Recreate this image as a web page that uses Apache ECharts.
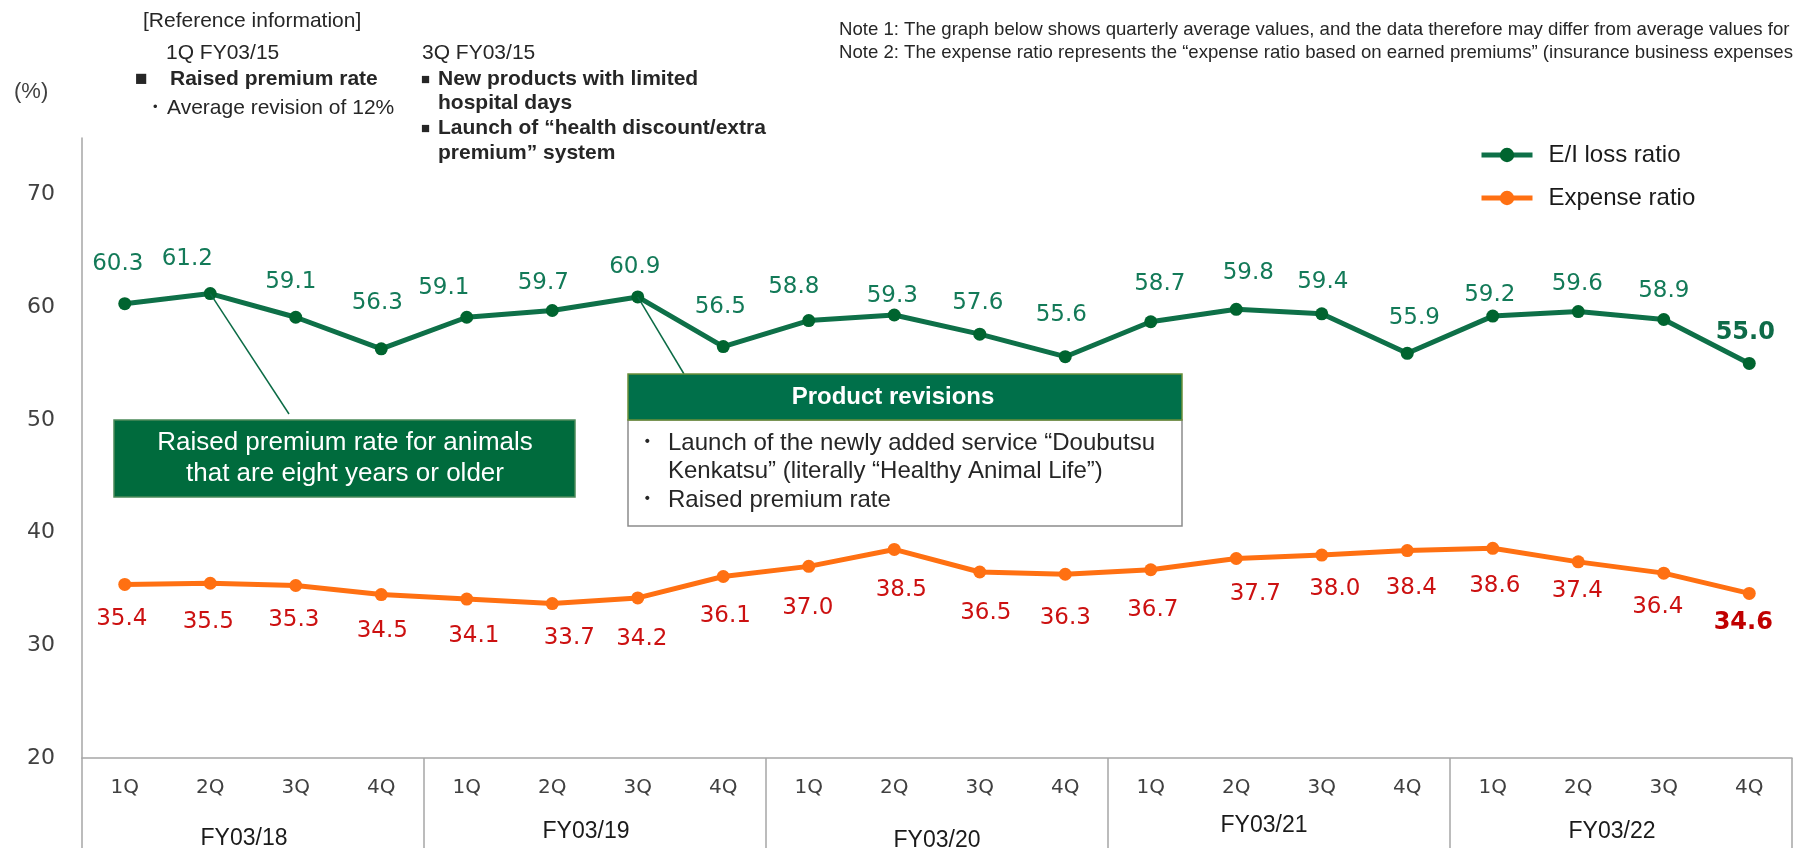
<!DOCTYPE html>
<html>
<head>
<meta charset="utf-8">
<script src="https://cdn.jsdelivr.net/npm/echarts@6/dist/echarts.min.js"></script>
<style>
  html, body { margin: 0; padding: 0; background: #ffffff; }
  #chart { width: 1794px; height: 853px; }
</style>
</head>
<body>
<div id="chart"></div>
<script>
// Quarter labels along the lower axis and the fiscal years that group them
const quarters = ['1Q', '2Q', '3Q', '4Q', '1Q', '2Q', '3Q', '4Q', '1Q', '2Q', '3Q', '4Q',
                  '1Q', '2Q', '3Q', '4Q', '1Q', '2Q', '3Q', '4Q'];
const fiscalYears = ['FY03/18', 'FY03/19', 'FY03/20', 'FY03/21', 'FY03/22'];

// Quarterly ratios (%)
const lossRatio = [60.3, 61.2, 59.1, 56.3, 59.1, 59.7, 60.9, 56.5, 58.8, 59.3,
                   57.6, 55.6, 58.7, 59.8, 59.4, 55.9, 59.2, 59.6, 58.9, 55.0];
const expenseRatio = [35.4, 35.5, 35.3, 34.5, 34.1, 33.7, 34.2, 36.1, 37.0, 38.5,
                      36.5, 36.3, 36.7, 37.7, 38.0, 38.4, 38.6, 37.4, 36.4, 34.6];

// Value axis range
const yMin = 20, yMax = 75, yStep = 10;

// Hand-placed nudges for the value labels (pixels from each marker)
const lossLabelShift = [[-7, -40], [-23, -35], [-5, -35], [-4, -46], [-23, -29], [-9, -27], [-3, -30],
  [-3, -40], [-15, -34], [-2, -19], [-2, -31], [-4, -42], [9, -38], [12, -36], [1, -32], [7, -35],
  [-3, -21], [-1, -28], [0, -28], [-4, -31]];
const expenseLabelShift = [[-3, 35], [-2, 39], [-2, 35], [1, 36], [7, 37], [17, 34], [4, 41],
  [2, 40], [-1, 42], [7, 41], [6, 41], [0, 44], [2, 40], [19, 36], [13, 34], [4, 37], [2, 38],
  [-1, 29], [-6, 34], [-6, 29]];

// Small shifts of the fiscal-year captions: [down, left]
const fyCaptionShift = [[13, 9], [6, 9], [15, 0], [0, 15], [6, 9]];

const SANS = '"Liberation Sans", Arial, sans-serif';
const VERD = '"DejaVu Sans", Verdana, sans-serif';
const GREEN_LINE = '#0E7048';
const GREEN_DOT = '#00642F';
const GREEN_TEXT = '#137A58';
const ORANGE = '#FF7012';
const RED_TEXT = '#CC1111';
const AXIS_GREY = '#A6A6A6';
const last = lossRatio.length - 1;

function seriesData(values, shifts, lastLabel) {
  return values.map((v, i) => {
    const item = { value: v, label: { offset: shifts[i] } };
    if (i === last) Object.assign(item.label, lastLabel);
    return item;
  });
}

const fyRich = {};
fiscalYears.forEach((fy, i) => {
  fyRich['f' + i] = {
    fontFamily: SANS, fontSize: 23, color: '#1A1A1A',
    padding: [fyCaptionShift[i][0], fyCaptionShift[i][1] * 2, 0, 0]
  };
});

const chart = echarts.init(document.getElementById('chart'), null, { renderer: 'canvas' });

const option = {
  animation: false,
  backgroundColor: '#ffffff',
  grid: { left: 82, right: 2, top: 138, bottom: 95, containLabel: false, outerBoundsMode: 'none' },
  legend: {
    orient: 'vertical',
    left: 1474,
    top: 138,
    itemWidth: 51,
    itemHeight: 18,
    itemGap: 19,
    lineStyle: { width: 5 },
    textStyle: { fontFamily: SANS, fontSize: 24, color: '#1A1A1A', padding: [0, 0, 0, 11] },
    data: ['E/I loss ratio', 'Expense ratio']
  },
  xAxis: [
    {
      type: 'category',
      position: 'bottom',
      data: quarters,
      boundaryGap: true,
      axisLine: { show: true, lineStyle: { color: AXIS_GREY, width: 1.5 } },
      axisTick: { show: false },
      axisLabel: { interval: 0, margin: 20, fontFamily: VERD, fontSize: 20, color: '#404040' },
      splitLine: { show: false }
    },
    {
      type: 'category',
      position: 'bottom',
      data: fiscalYears,
      boundaryGap: true,
      axisLine: { show: false },
      axisTick: { show: true, length: 90, lineStyle: { color: AXIS_GREY, width: 1.5 } },
      axisLabel: {
        interval: 0, margin: 56,
        formatter: (v) => '{f' + fiscalYears.indexOf(v) + '|' + v + '}',
        rich: fyRich
      },
      splitLine: { show: false }
    }
  ],
  yAxis: {
    type: 'value',
    min: yMin,
    max: yMax,
    interval: yStep,
    axisLine: { show: true, lineStyle: { color: AXIS_GREY, width: 1.5 } },
    axisTick: { show: false },
    splitLine: { show: false },
    axisLabel: { showMaxLabel: false, margin: 27, fontFamily: VERD, fontSize: 22, color: '#404040' }
  },
  series: [
    {
      name: 'E/I loss ratio',
      type: 'line',
      xAxisIndex: 0,
      data: seriesData(lossRatio, lossLabelShift, { fontWeight: 'bold', fontSize: 24, color: '#0E6B48' }),
      symbol: 'circle',
      symbolSize: 13,
      lineStyle: { color: GREEN_LINE, width: 5 },
      itemStyle: { color: GREEN_DOT },
      label: {
        show: true, position: 'inside',
        fontFamily: VERD, fontSize: 23, color: GREEN_TEXT,
        formatter: (p) => p.value.toFixed(1)
      },
      markLine: {
        silent: true,
        symbol: ['none', 'none'],
        label: { show: false },
        lineStyle: { color: '#0B6B45', width: 1.5, type: 'solid' },
        data: [
          [{ coord: [1, lossRatio[1]] }, { x: 289, y: 414 }],
          [{ coord: [6, lossRatio[6]] }, { x: 684, y: 374 }]
        ]
      }
    },
    {
      name: 'Expense ratio',
      type: 'line',
      xAxisIndex: 0,
      data: seriesData(expenseRatio, expenseLabelShift, { fontWeight: 'bold', fontSize: 24, color: '#C00000' }),
      symbol: 'circle',
      symbolSize: 13,
      lineStyle: { color: ORANGE, width: 5 },
      itemStyle: { color: ORANGE },
      label: {
        show: true, position: 'inside',
        fontFamily: VERD, fontSize: 23, color: RED_TEXT,
        formatter: (p) => p.value.toFixed(1)
      }
    }
  ],
  graphic: [
    // unit caption
    { type: 'text', left: 14, top: 81, style: { text: '(%)', fontFamily: SANS, fontSize: 22, fill: '#404040' } },

    // notes along the top
    { type: 'text', x: 839, y: 30, style: { text: 'Note 1: The graph below shows quarterly average values, and the data therefore may differ from average values for',
      fontFamily: SANS, fontSize: 18.6, fill: '#262626', verticalAlign: 'middle' } },
    { type: 'text', x: 839, y: 53, style: { text: 'Note 2: The expense ratio represents the \u201cexpense ratio based on earned premiums\u201d (insurance business expenses',
      fontFamily: SANS, fontSize: 18.6, fill: '#262626', verticalAlign: 'middle' } },

    // reference information block
    { type: 'text', x: 143, y: 21, style: { text: '[Reference information]', fontFamily: SANS, fontSize: 21, fill: '#262626', verticalAlign: 'middle' } },
    { type: 'text', x: 166, y: 53, style: { text: '1Q FY03/15', fontFamily: SANS, fontSize: 21, fill: '#262626', verticalAlign: 'middle' } },
    { type: 'text', x: 135, y: 79, style: { text: '\u25a0', fontFamily: SANS, fontSize: 21, fontWeight: 'bold', fill: '#262626', verticalAlign: 'middle' } },
    { type: 'text', x: 170, y: 79, style: { text: 'Raised premium rate', fontFamily: SANS, fontSize: 21, fontWeight: 'bold', fill: '#262626', verticalAlign: 'middle' } },
    { type: 'text', x: 144, y: 108, style: { text: '\u30fb', fontFamily: SANS, fontSize: 22, fill: '#262626', verticalAlign: 'middle' } },
    { type: 'text', x: 167, y: 108, style: { text: 'Average revision of 12%', fontFamily: SANS, fontSize: 21, fill: '#262626', verticalAlign: 'middle' } },

    { type: 'text', x: 422, y: 53, style: { text: '3Q FY03/15', fontFamily: SANS, fontSize: 21, fill: '#262626', verticalAlign: 'middle' } },
    { type: 'text', x: 421, y: 80, style: { text: '\u25a0', fontFamily: SANS, fontSize: 15, fill: '#262626', verticalAlign: 'middle' } },
    { type: 'text', x: 438, y: 79, style: { text: 'New products with limited', fontFamily: SANS, fontSize: 21, fontWeight: 'bold', fill: '#262626', verticalAlign: 'middle' } },
    { type: 'text', x: 438, y: 103, style: { text: 'hospital days', fontFamily: SANS, fontSize: 21, fontWeight: 'bold', fill: '#262626', verticalAlign: 'middle' } },
    { type: 'text', x: 421, y: 129, style: { text: '\u25a0', fontFamily: SANS, fontSize: 15, fill: '#262626', verticalAlign: 'middle' } },
    { type: 'text', x: 438, y: 128, style: { text: 'Launch of \u201chealth discount/extra', fontFamily: SANS, fontSize: 21, fontWeight: 'bold', fill: '#262626', verticalAlign: 'middle' } },
    { type: 'text', x: 438, y: 153, style: { text: 'premium\u201d system', fontFamily: SANS, fontSize: 21, fontWeight: 'bold', fill: '#262626', verticalAlign: 'middle' } },

    // callout: premium raise for older animals
    { type: 'rect', shape: { x: 114, y: 420, width: 461, height: 77 },
      style: { fill: '#006B3D', stroke: '#4C8A5A', lineWidth: 1.5 }, z: 10 },
    { type: 'text', x: 345, y: 443, z: 11, style: { text: 'Raised premium rate for animals', fontFamily: SANS, fontSize: 26,
      fill: '#ffffff', align: 'center', verticalAlign: 'middle' } },
    { type: 'text', x: 345, y: 474, z: 11, style: { text: 'that are eight years or older', fontFamily: SANS, fontSize: 26,
      fill: '#ffffff', align: 'center', verticalAlign: 'middle' } },

    // callout: product revisions
    { type: 'rect', shape: { x: 628, y: 420, width: 554, height: 106 },
      style: { fill: '#ffffff', stroke: '#8C8C8C', lineWidth: 1.5 }, z: 10 },
    { type: 'rect', shape: { x: 628, y: 374, width: 554, height: 46 },
      style: { fill: '#00704A', stroke: '#6B8E3A', lineWidth: 1.5 }, z: 10 },
    { type: 'text', x: 893, y: 397, z: 11, style: { text: 'Product revisions', fontFamily: SANS, fontSize: 24, fontWeight: 'bold',
      fill: '#ffffff', align: 'center', verticalAlign: 'middle' } },
    { type: 'text', x: 634, y: 443, z: 11, style: { text: '\u30fb', fontFamily: SANS, fontSize: 26, fill: '#262626', verticalAlign: 'middle' } },
    { type: 'text', x: 668, y: 443, z: 11, style: { text: 'Launch of the newly added service \u201cDoubutsu', fontFamily: SANS, fontSize: 24,
      fill: '#262626', verticalAlign: 'middle' } },
    { type: 'text', x: 668, y: 471, z: 11, style: { text: 'Kenkatsu\u201d (literally \u201cHealthy Animal Life\u201d)', fontFamily: SANS, fontSize: 24,
      fill: '#262626', verticalAlign: 'middle' } },
    { type: 'text', x: 634, y: 500, z: 11, style: { text: '\u30fb', fontFamily: SANS, fontSize: 26, fill: '#262626', verticalAlign: 'middle' } },
    { type: 'text', x: 668, y: 500, z: 11, style: { text: 'Raised premium rate', fontFamily: SANS, fontSize: 24,
      fill: '#262626', verticalAlign: 'middle' } }
  ]
};

chart.setOption(option);
</script>
</body>
</html>
